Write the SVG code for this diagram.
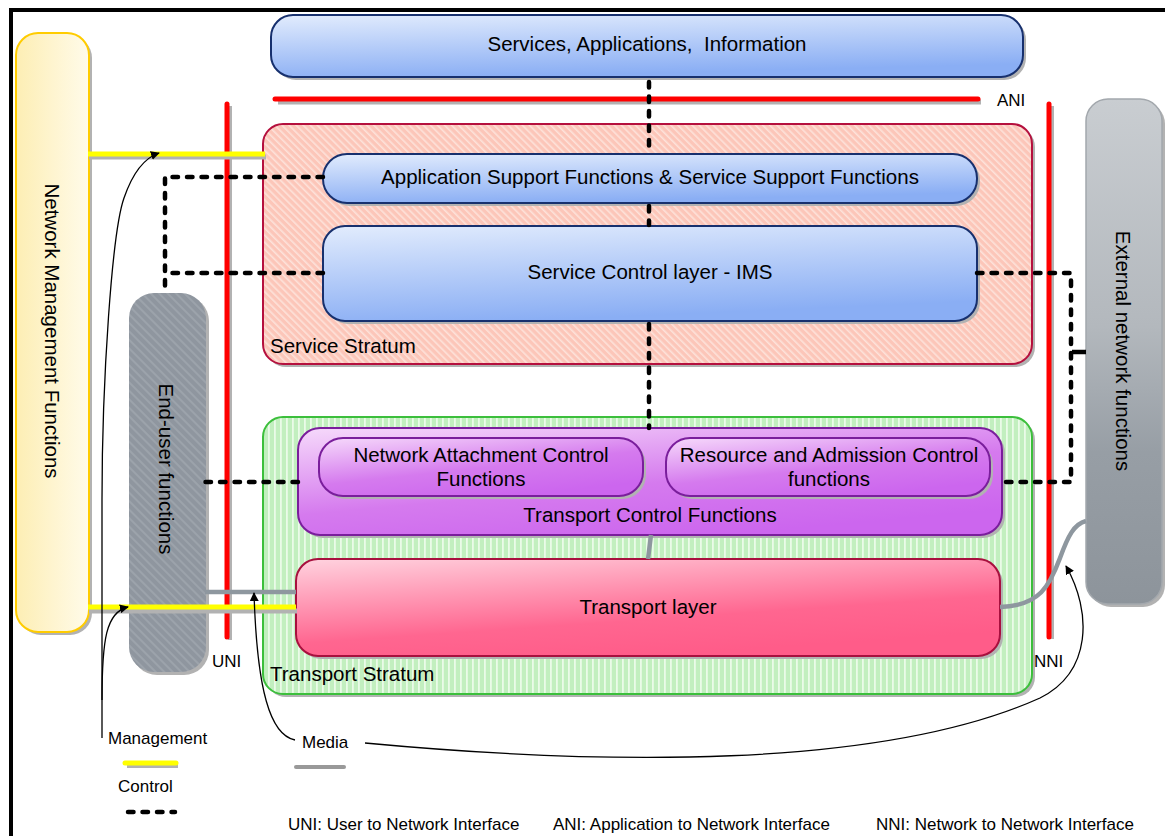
<svg xmlns="http://www.w3.org/2000/svg" width="1165" height="836" viewBox="0 0 1165 836">
  <style>
    text { font-family: "Liberation Sans", Arial, sans-serif; fill: #000; }
    .lbl { font-size: 20.5px; }
    .small { font-size: 17px; }
    .sh { fill: #b2b2b2; }
    .shl { stroke: #b2b2b2; fill: none; }
    .blue { fill: url(#gBlue); stroke: #17306e; stroke-width: 2; }
    .purple { fill: url(#gPurple); stroke: #7a1e9c; stroke-width: 2; }
    .ctrl { stroke: #000; stroke-width: 4.5; fill: none; stroke-dasharray: 5.5 9; stroke-linecap: round; }
    .media { stroke: #8e979f; stroke-width: 4.5; fill: none; }
    .mgmt { stroke: #ffff00; stroke-width: 5; fill: none; }
    .iface { stroke: #ff0000; stroke-width: 5; stroke-linecap: round; fill: none; }
    .thin { stroke: #000; stroke-width: 1.3; fill: none; }
  </style>
  <defs>
    <linearGradient id="gBlue" x1="0" y1="0" x2="0.3" y2="1">
      <stop offset="0" stop-color="#e2ecfd"/>
      <stop offset="1" stop-color="#8aaef4"/>
    </linearGradient>
    <linearGradient id="gPurple" x1="0" y1="0" x2="0.6" y2="1">
      <stop offset="0" stop-color="#f6dafb"/>
      <stop offset="0.6" stop-color="#d57aee"/>
      <stop offset="1" stop-color="#cc66ee"/>
    </linearGradient>
    <linearGradient id="gPink" x1="0" y1="0" x2="0.5" y2="1">
      <stop offset="0" stop-color="#ffd3df"/>
      <stop offset="0.7" stop-color="#ff6690"/>
      <stop offset="1" stop-color="#ff5c89"/>
    </linearGradient>
    <linearGradient id="gYellow" x1="0" y1="0" x2="1" y2="0">
      <stop offset="0" stop-color="#fdeeb4"/>
      <stop offset="1" stop-color="#fffbea"/>
    </linearGradient>
    <linearGradient id="gSilver" x1="0" y1="0" x2="0" y2="1">
      <stop offset="0" stop-color="#c9cdd1"/>
      <stop offset="0.45" stop-color="#b3b8bd"/>
      <stop offset="0.7" stop-color="#979ea5"/>
      <stop offset="1" stop-color="#8d949b"/>
    </linearGradient>
    <pattern id="hPink" width="5" height="5" patternUnits="userSpaceOnUse" patternTransform="rotate(-45)">
      <rect width="5" height="5" fill="#fcc6b9"/>
      <rect width="1.6" height="5" fill="#fde2da"/>
    </pattern>
    <pattern id="hGreen" width="6" height="6" patternUnits="userSpaceOnUse">
      <rect width="6" height="6" fill="#c2efbf"/>
      <rect x="4" width="1.8" height="6" fill="#eafbe8"/>
    </pattern>
    <pattern id="hGrey" width="6" height="6" patternUnits="userSpaceOnUse" patternTransform="rotate(-45)">
      <rect width="6" height="6" fill="#8f969f"/>
      <rect width="2" height="6" fill="#9ca3ab"/>
    </pattern>
    <marker id="arr" viewBox="0 0 10 10" refX="9" refY="5" markerWidth="9" markerHeight="9" markerUnits="userSpaceOnUse" orient="auto">
      <path d="M0,0 L10,5 L0,10 Z" fill="#000"/>
    </marker>
  </defs>

  <rect width="1165" height="836" fill="#fff"/>

  <!-- outer frame -->
  <path d="M11,836 L11,10 L1165,10" fill="none" stroke="#000" stroke-width="4"/>

  <!-- strata -->
  <g id="service-stratum">
    <rect class="sh" x="266" y="127" width="769" height="240" rx="20"/>
    <rect x="263" y="124" width="769" height="240" rx="20" fill="url(#hPink)" stroke="#b5103e" stroke-width="2"/>
    <text class="lbl" x="270" y="353">Service Stratum</text>
  </g>
  <g id="transport-stratum">
    <rect class="sh" x="266" y="420" width="769" height="277" rx="20"/>
    <rect x="263" y="417" width="769" height="277" rx="20" fill="url(#hGreen)" stroke="#3cbf3c" stroke-width="2"/>
    <text class="lbl" x="270" y="681">Transport Stratum</text>
  </g>

  <!-- left and right columns -->
  <g id="network-management">
    <rect class="sh" x="19" y="36" width="73" height="599" rx="22"/>
    <rect x="16" y="33" width="73" height="599" rx="22" fill="url(#gYellow)" stroke="#ffcc00" stroke-width="2"/>
    <text class="lbl" transform="translate(52,331) rotate(90)" text-anchor="middle" dominant-baseline="central">Network Management Functions</text>
  </g>
  <g id="end-user">
    <rect class="sh" x="132" y="296" width="77" height="379" rx="25"/>
    <rect x="129" y="293" width="77" height="379" rx="25" fill="url(#hGrey)"/>
    <text class="lbl" transform="translate(166,469) rotate(90)" text-anchor="middle" dominant-baseline="central">End-user functions</text>
  </g>
  <g id="external-network">
    <rect class="sh" x="1089" y="102" width="76" height="505" rx="22"/>
    <rect x="1086" y="99" width="76" height="505" rx="22" fill="url(#gSilver)" stroke="#a3a8ad" stroke-width="1.5"/>
    <text class="lbl" transform="translate(1123,351) rotate(90)" text-anchor="middle" dominant-baseline="central">External network functions</text>
  </g>

  <!-- interface reference points -->
  <g id="interfaces">
    <line class="shl" x1="278" y1="102" x2="981" y2="102" stroke-width="5"/>
    <line class="iface" x1="275" y1="99" x2="978" y2="99"/>
    <line class="shl" x1="230" y1="106" x2="230" y2="640" stroke-width="4"/>
    <line class="iface" x1="227" y1="104" x2="227" y2="637"/>
    <line class="shl" x1="1052" y1="106" x2="1052" y2="639" stroke-width="4"/>
    <line class="iface" x1="1049" y1="104" x2="1049" y2="637"/>
    <text class="small" x="997" y="106">ANI</text>
    <text class="small" x="212" y="667">UNI</text>
    <text class="small" x="1034" y="667">NNI</text>
  </g>

  <!-- functional blocks -->
  <g id="services">
    <rect class="sh" x="274" y="18" width="752" height="62" rx="22"/>
    <rect class="blue" x="271" y="15" width="752" height="62" rx="22"/>
    <text class="lbl" x="647" y="51" text-anchor="middle" xml:space="preserve">Services, Applications,  Information</text>
  </g>
  <g id="app-support">
    <rect class="sh" x="326" y="157" width="654" height="49" rx="24"/>
    <rect class="blue" x="323" y="154" width="654" height="49" rx="24"/>
    <text class="lbl" x="650" y="184" text-anchor="middle">Application Support Functions &amp; Service Support Functions</text>
  </g>
  <g id="service-control">
    <rect class="sh" x="326" y="229" width="654" height="95" rx="22"/>
    <rect class="blue" x="323" y="226" width="654" height="95" rx="22"/>
    <text class="lbl" x="650" y="279" text-anchor="middle">Service Control layer - IMS</text>
  </g>
  <g id="transport-control">
    <rect class="sh" x="301" y="431" width="704" height="107" rx="22"/>
    <rect class="purple" x="298" y="428" width="704" height="107" rx="22"/>
    <text class="lbl" x="650" y="522" text-anchor="middle">Transport Control Functions</text>
  </g>
  <g id="nacf">
    <rect class="sh" x="322" y="441" width="324" height="58" rx="24"/>
    <rect class="purple" x="319" y="438" width="324" height="58" rx="24"/>
    <text class="lbl" x="481" y="462" text-anchor="middle">Network Attachment Control</text>
    <text class="lbl" x="481" y="486" text-anchor="middle">Functions</text>
  </g>
  <g id="racf">
    <rect class="sh" x="669" y="441" width="324" height="58" rx="24"/>
    <rect class="purple" x="666" y="438" width="324" height="58" rx="24"/>
    <text class="lbl" x="829" y="462" text-anchor="middle">Resource and Admission Control</text>
    <text class="lbl" x="829" y="486" text-anchor="middle">functions</text>
  </g>
  <g id="transport-layer">
    <rect class="sh" x="299" y="562" width="704" height="97" rx="22"/>
    <rect x="296" y="559" width="704" height="97" rx="22" fill="url(#gPink)" stroke="#a8103e" stroke-width="2"/>
    <text class="lbl" x="648" y="614" text-anchor="middle">Transport layer</text>
  </g>

  <!-- connectors -->
  <g id="connectors">
    <!-- management -->
    <line class="shl" x1="89" y1="157" x2="266" y2="157" stroke-width="5"/>
    <line class="mgmt" x1="88" y1="154" x2="265" y2="154"/>
    <line class="shl" x1="89" y1="611" x2="297" y2="611" stroke-width="5"/>
    <line class="mgmt" x1="88" y1="607" x2="296" y2="607"/>

    <!-- media -->
    <line class="media" x1="205" y1="592" x2="296" y2="592"/>
    <path class="media" d="M651,535 L648,559"/>
    <path class="media" d="M1000,607 C1040,606 1050,585 1060,558 C1068,536 1074,524 1086,521"/>

    <!-- control -->
    <path class="ctrl" d="M649,82 L649,154 M649,206 L649,225 M649,324 L649,428"/>
    <path class="ctrl" d="M323,177 L165,177 L165,293 M323,273 L165,273"/>
    <path class="ctrl" d="M298,482 L200,482"/>
    <path class="ctrl" d="M977,273 L1071,273 L1071,482 L1001,482"/>
    <line x1="1072" y1="352" x2="1086" y2="352" stroke="#000" stroke-width="4.5"/>

    <!-- legend pointers -->
    <path class="thin" d="M102,738 L102,500 C102,380 112,232 124,198 C133,172 144,158 159,153" marker-end="url(#arr)"/>
    <path class="thin" d="M102,700 C102,640 106,612 128,607" marker-end="url(#arr)"/>
    <path class="thin" d="M295,740 C270,735 257,690 254,593" marker-end="url(#arr)"/>
    <path class="thin" d="M365,743 C600,765 880,770 1040,698 C1092,672 1092,612 1066,566" marker-end="url(#arr)"/>
  </g>

  <!-- legend -->
  <g id="legend">
    <text class="small" x="108" y="744">Management</text>
    <line class="shl" x1="127" y1="766" x2="178" y2="766" stroke-width="4"/>
    <line x1="125" y1="763" x2="176" y2="763" stroke="#ffff00" stroke-width="5" stroke-linecap="round"/>
    <text class="small" x="118" y="792">Control</text>
    <line class="ctrl" x1="128" y1="812" x2="175" y2="812"/>
    <text class="small" x="302" y="748">Media</text>
    <line x1="296" y1="767" x2="344" y2="767" stroke="#999" stroke-width="4" stroke-linecap="round"/>
    <text class="small" x="288" y="830">UNI: User to Network Interface</text>
    <text class="small" x="553" y="830">ANI: Application to Network Interface</text>
    <text class="small" x="876" y="830">NNI: Network to Network Interface</text>
  </g>
</svg>
